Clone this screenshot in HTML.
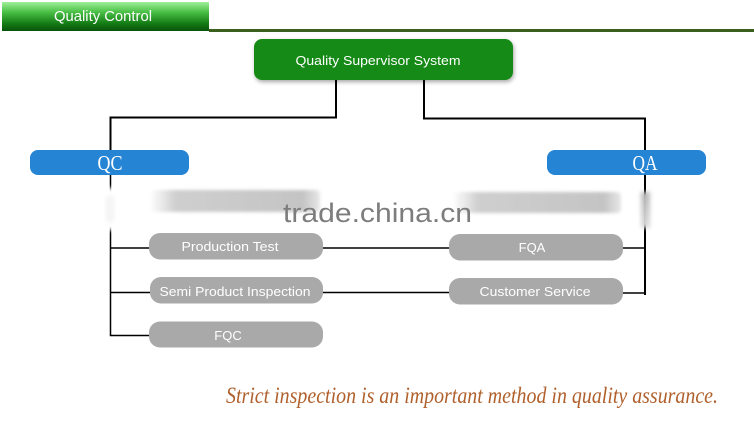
<!DOCTYPE html>
<html><head><meta charset="utf-8">
<style>
html,body{margin:0;padding:0;background:#fff;}
body{width:754px;height:441px;overflow:hidden;position:relative;}
svg{position:absolute;left:0;top:0;}
</style></head>
<body>
<svg width="754" height="441" viewBox="0 0 754 441" xmlns="http://www.w3.org/2000/svg">
<defs>
<linearGradient id="hdr" x1="0" y1="0" x2="0" y2="1">
<stop offset="0" stop-color="#9ff09a"/>
<stop offset="0.35" stop-color="#49bf45"/>
<stop offset="0.75" stop-color="#137a14"/>
<stop offset="1" stop-color="#0a530b"/>
</linearGradient>
<linearGradient id="barL" x1="0" y1="0" x2="1" y2="0">
<stop offset="0" stop-color="#fff"/>
<stop offset="0.15" stop-color="#cfcfcf"/>
<stop offset="0.9" stop-color="#c4c4c4"/>
<stop offset="1" stop-color="#e8e8e8"/>
</linearGradient>
<linearGradient id="barV" x1="0" y1="0" x2="0" y2="1">
<stop offset="0" stop-color="#b9b9b9"/>
<stop offset="1" stop-color="#dcdcdc"/>
</linearGradient>
<filter id="blur" x="-10%" y="-50%" width="120%" height="200%"><feGaussianBlur stdDeviation="1.5"/></filter>
<filter id="blur2" x="-100%" y="-20%" width="300%" height="140%"><feGaussianBlur stdDeviation="2"/></filter>
<filter id="sh" x="-10%" y="-30%" width="120%" height="170%"><feDropShadow dx="1" dy="2" stdDeviation="2" flood-color="#000" flood-opacity="0.35"/></filter>
</defs>

<!-- header -->
<rect x="2" y="2" width="207" height="29" fill="url(#hdr)"/>
<rect x="209" y="29" width="545" height="3" fill="#3b5f1f"/>
<text x="103" y="21" font-family="Liberation Sans, Arial, sans-serif" font-size="15" fill="#fff" text-anchor="middle" textLength="98" lengthAdjust="spacingAndGlyphs">Quality Control</text>

<!-- top box -->
<rect x="254" y="39" width="259" height="41" rx="8" fill="#168a18" filter="url(#sh)"/>
<text x="378" y="65" font-family="Liberation Sans, Arial, sans-serif" font-size="13" fill="#fff" text-anchor="middle" textLength="165" lengthAdjust="spacingAndGlyphs">Quality Supervisor System</text>

<!-- connectors -->
<g stroke="#000" stroke-width="2" fill="none">
<path d="M336 80 V117.5 H110.5 V150"/>
<path d="M424 80 V118.5 H645 V150"/>
</g>
<g stroke="#000" stroke-width="1.5" fill="none">
<path d="M110.5 175 V335.5 H150"/>
<path d="M110.5 248 H150"/>
<path d="M110.5 292.5 H150"/>
<path d="M322 248 H449"/>
<path d="M322 292.5 H449"/>
<path d="M622 248 H645"/>
<path d="M622 293 H645"/>
</g>
<path d="M645 175 V295" stroke="#000" stroke-width="2"/>

<!-- blurred obscured area -->
<rect x="104" y="188" width="14" height="42" fill="#fff" filter="url(#blur2)"/>
<rect x="106" y="196" width="8" height="26" fill="#f4f4f4" filter="url(#blur2)"/>
<rect x="641" y="192" width="9" height="36" fill="url(#barV)" filter="url(#blur2)"/>

<!-- QC / QA -->
<rect x="30" y="150" width="159" height="25" rx="8" fill="#2584d3"/>
<text x="110" y="170" font-family="Liberation Serif, serif" font-size="21" fill="#fff" text-anchor="middle" textLength="25" lengthAdjust="spacingAndGlyphs">QC</text>
<rect x="547" y="150" width="159" height="25" rx="8" fill="#2584d3"/>
<text x="645" y="170" font-family="Liberation Serif, serif" font-size="21" fill="#fff" text-anchor="middle" textLength="25" lengthAdjust="spacingAndGlyphs">QA</text>

<!-- blurred bars -->
<rect x="150" y="190" width="170" height="22" rx="4" fill="url(#barL)" filter="url(#blur)"/>
<rect x="453" y="192" width="168" height="21" rx="4" fill="url(#barL)" filter="url(#blur)"/>

<!-- gray boxes -->
<g fill="#a9a9a9">
<rect x="149" y="233" width="174" height="26.5" rx="11"/>
<rect x="150" y="277" width="173" height="26.5" rx="11"/>
<rect x="149" y="321.5" width="174" height="26" rx="11"/>
<rect x="449" y="234" width="174" height="26.5" rx="11"/>
<rect x="449" y="278" width="174" height="26.5" rx="11"/>
</g>
<g font-family="Liberation Sans, Arial, sans-serif" font-size="13" fill="#fff" text-anchor="middle">
<text x="230" y="251" textLength="97" lengthAdjust="spacingAndGlyphs">Production Test</text>
<text x="235" y="296" textLength="151" lengthAdjust="spacingAndGlyphs">Semi Product Inspection</text>
<text x="228" y="340">FQC</text>
<text x="532" y="252">FQA</text>
<text x="535" y="296" textLength="111" lengthAdjust="spacingAndGlyphs">Customer Service</text>
</g>

<!-- watermark -->
<text x="283" y="222" font-family="Liberation Sans, Arial, sans-serif" font-size="27" fill="#7d7d7d" textLength="189" lengthAdjust="spacingAndGlyphs">trade.china.cn</text>

<!-- script line -->
<text x="226" y="403" font-family="Liberation Serif, serif" font-style="italic" font-size="23" fill="#b0602c" textLength="492" lengthAdjust="spacingAndGlyphs">Strict inspection is an important method in quality assurance.</text>
</svg>
</body></html>
